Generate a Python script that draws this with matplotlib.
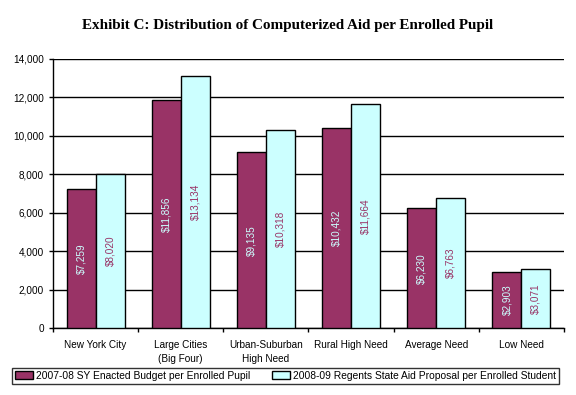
import matplotlib
matplotlib.use("Agg")
import matplotlib.pyplot as plt
import numpy as np
from matplotlib.ticker import FuncFormatter, MultipleLocator

categories = ["New York City", "Large Cities\n(Big Four)", "Urban-Suburban\nHigh Need",
              "Rural High Need", "Average Need", "Low Need"]
enacted = [7259, 11856, 9135, 10432, 6230, 2903]
proposal = [8020, 13134, 10318, 11664, 6763, 3071]
series_names = ["2007-08 SY Enacted Budget per Enrolled Pupil",
                "2008-09 Regents State Aid Proposal per Enrolled Student"]

MAGENTA = "#993366"
CYAN = "#CCFFFF"

plt.rcParams['font.family'] = ['Liberation Sans', 'DejaVu Sans']

fig = plt.figure(figsize=(5.76, 3.95), dpi=100)
ax = fig.add_axes([53/576, 1-328/395, (564-53)/576, (328-59)/395])

x = np.arange(len(categories))
w = 0.34
b1 = ax.bar(x - w/2, enacted, w, color=MAGENTA, edgecolor="black", linewidth=1, zorder=3)
b2 = ax.bar(x + w/2, proposal, w, color=CYAN, edgecolor="black", linewidth=1, zorder=3)

for rect, v in zip(b1, enacted):
    ax.text(rect.get_x() + rect.get_width()/2, v/2, f"${v:,}", rotation=90,
            ha="center", va="center", color=CYAN, fontsize=7.2, zorder=4)
for rect, v in zip(b2, proposal):
    ax.text(rect.get_x() + rect.get_width()/2, v/2, f"${v:,}", rotation=90,
            ha="center", va="center", color=MAGENTA, fontsize=7.2, zorder=4)

ax.set_xlim(-0.5, len(categories) - 0.5)
ax.set_ylim(0, 14000)
ax.yaxis.set_major_locator(MultipleLocator(2000))
ax.yaxis.set_major_formatter(FuncFormatter(lambda v, p: f"{int(v):,}"))
ax.grid(axis="y", color="black", linewidth=1, zorder=0)
ax.set_xticks(x)
ax.set_xticklabels(categories, fontsize=7.2, linespacing=1.5)
ax.set_xticks(np.arange(-0.5, len(categories)), minor=True)
ax.tick_params(axis="x", which="major", length=0, pad=9)
ax.tick_params(axis="x", which="minor", length=3, width=1, direction="out")
ax.tick_params(axis="y", labelsize=7.2, length=3, width=1, direction="out")
for s in ["top", "right"]:
    ax.spines[s].set_visible(False)
for s in ["left", "bottom"]:
    ax.spines[s].set_linewidth(1)

fig.text(287.5/576, 1-26/395, "Exhibit C: Distribution of Computerized Aid per Enrolled Pupil",
         ha="center", va="center", fontsize=10.9, fontweight="bold", family="Liberation Serif")

leg = fig.legend([b1, b2], series_names, loc="center",
                 bbox_to_anchor=(12/576, 1-383/395, 547/576, 14/395), mode="expand",
                 ncol=2, fontsize=7.4, frameon=True, fancybox=False, edgecolor="black",
                 handlelength=1.8, handleheight=0.8, columnspacing=1.0, handletextpad=0.3,
                 borderpad=0.25, borderaxespad=0)
leg.get_frame().set_linewidth(1)

fig.savefig("out.png", dpi=100, facecolor="white")
